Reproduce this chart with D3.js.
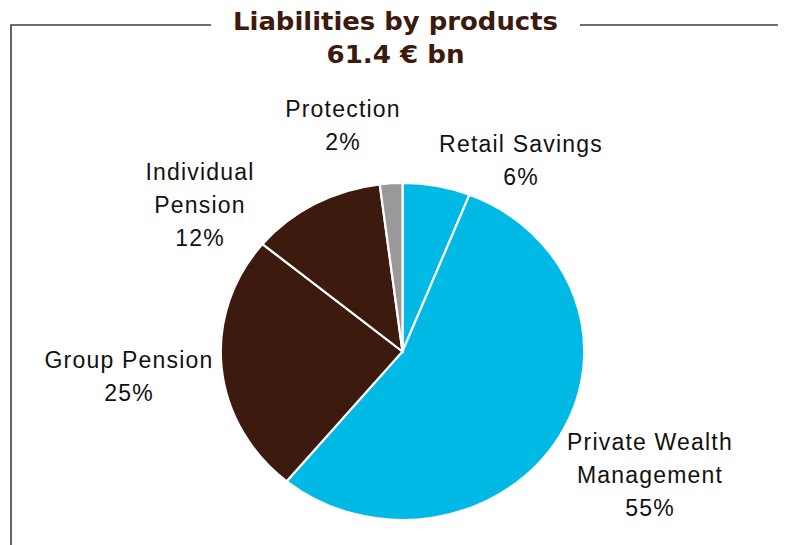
<!DOCTYPE html>
<html>
<head>
<meta charset="utf-8">
<script src="https://cdn.jsdelivr.net/npm/d3@7"></script>
<style>
  html, body { margin: 0; padding: 0; background: #fff; }
  svg { display: block; }
</style>
</head>
<body>
<svg id="chart" width="789" height="545"></svg>
<script>
// Liabilities split by product line (shares in %)
const categories = ["Retail Savings", "Private Wealth Management", "Group Pension", "Individual Pension", "Protection"];
const shares = [6, 55, 25, 12, 2];
const labelLines = [
  ["Retail Savings"],
  ["Private Wealth", "Management"],
  ["Group Pension"],
  ["Individual", "Pension"],
  ["Protection"]
];
const titleLines = ["Liabilities by products", "61.4 € bn"];

const colors = d3.scaleOrdinal()
  .domain(categories)
  .range(["#00B9E4", "#00B9E4", "#3C1A0D", "#3C1A0D", "#999999"]);

const W = 789, H = 545;
const svg = d3.select("#chart");

// Frame: top rule broken by the title, plus the left rule
const frameColor = "#4a3b34";
svg.append("path")
  .attr("d", `M11,${H} L11,25 L211,25 M580,25 L778,25`)
  .attr("fill", "none")
  .attr("stroke", frameColor)
  .attr("stroke-width", 1.6);

// Title
const titleWidths = [325, 138];
const titleBase = [30, 63];
titleLines.forEach((t, i) => {
  svg.append("text")
    .attr("x", 395.5)
    .attr("y", titleBase[i])
    .attr("text-anchor", "middle")
    .attr("font-family", "'DejaVu Sans', Verdana, sans-serif")
    .attr("font-weight", "bold")
    .attr("font-size", 24.5)
    .attr("textLength", titleWidths[i])
    .attr("lengthAdjust", "spacingAndGlyphs")
    .attr("fill", "#3C1A0D")
    .text(t);
});

// Pie (slightly wider than tall)
const cx = 402.5, cy = 351.5, rx = 181.7, ry = 168.5, R = 100;
const pie = d3.pie().sort(null).value(d => d.value);
const arc = d3.arc().innerRadius(0).outerRadius(R);
const data = categories.map((c, i) => ({ name: c, value: shares[i], lines: labelLines[i] }));
const arcs = pie(data);

const g = svg.append("g")
  .attr("transform", `translate(${cx},${cy}) scale(${rx / R},${ry / R})`);
g.selectAll("path")
  .data(arcs)
  .join("path")
  .attr("d", arc)
  .attr("fill", d => colors(d.data.name))
  .attr("stroke", "#fff")
  .attr("stroke-width", 2.2)
  .attr("vector-effect", "non-scaling-stroke");

// Category labels with share, placed around the pie
const labelAnchor = {
  "Retail Savings": [521, 152],
  "Private Wealth Management": [650, 450],
  "Group Pension": [129, 368],
  "Individual Pension": [200, 180],
  "Protection": [343, 117]
};
const lineH = 33.2;
arcs.forEach(a => {
  const [x, y] = labelAnchor[a.data.name];
  const lines = a.data.lines.concat([`${a.data.value}%`]);
  const t = svg.append("text")
    .attr("text-anchor", "middle")
    .attr("font-family", "'Liberation Sans', Arial, sans-serif")
    .attr("font-size", 23)
    .attr("letter-spacing", 1.2)
    .attr("fill", "#111");
  lines.forEach((l, i) => {
    t.append("tspan").attr("x", x).attr("y", y + i * lineH).text(l);
  });
});
</script>
</body>
</html>
